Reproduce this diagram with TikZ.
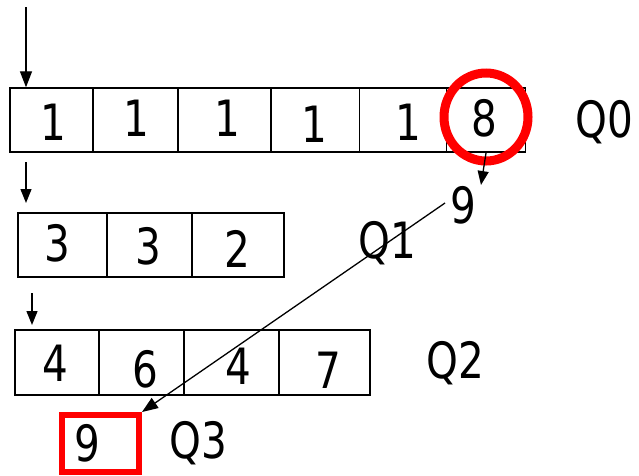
\documentclass[tikz,border=0pt]{standalone}
\usepackage{fontspec}
\setmainfont{DejaVu Sans Condensed}[FakeStretch=0.9]
\usetikzlibrary{arrows.meta}
\begin{document}
\begin{tikzpicture}[x=1pt,y=-1pt,
  cell/.style={draw,line width=1.4pt,inner sep=0pt,minimum height=64pt},
  num/.style={inner sep=0pt,font=\fontsize{50}{50}\selectfont},
  qlab/.style={inner sep=0pt,font=\fontsize{50}{50}\selectfont},
  arr/.style={line width=1.3pt,-{Triangle[length=16pt,width=12pt]}},
  arrs/.style={line width=1.3pt,-{Triangle[length=14pt,width=11pt]}}]
\useasboundingbox (0,0) rectangle (639,475);
% Q0 cells
\node[cell,minimum width=83pt] (c00) at (51.5,120) {};
\node[cell,minimum width=85pt] (c01) at (135.5,120) {};
\node[cell,minimum width=93pt] (c02) at (224.5,120) {};
\node[cell,minimum width=88pt] (c03) at (315.5,120) {};
\node[cell,minimum width=87pt] (c04) at (403,120) {};
\node[cell,minimum width=79pt] (c05) at (486,120) {};
\node[num] (n00) at (53,122) {1};
\node[num] (n01) at (136,118) {1};
\node[num] (n02) at (227,118) {1};
\node[num] (n03) at (314,124) {1};
\node[num] (n04) at (408,122) {1};
\node[num] (n05) at (484,118) {8};
\node[qlab] (q0) at (604,122) {Q0};
% Q1 cells
\node[cell,minimum width=89pt] (c10) at (62.5,245) {};
\node[cell,minimum width=85pt] (c11) at (149.5,245) {};
\node[cell,minimum width=92pt] (c12) at (238,245) {};
\node[num] (n10) at (57,243) {3};
\node[num] (n11) at (148,246) {3};
\node[num] (n12) at (237,249) {2};
\node[qlab] (q1) at (387,243) {Q1};
% Q2 cells
\node[cell,minimum width=84pt,minimum height=65pt] (c20) at (57,362.5) {};
\node[cell,minimum width=85pt,minimum height=65pt] (c21) at (141.5,362.5) {};
\node[cell,minimum width=95pt,minimum height=65pt] (c22) at (231.5,362.5) {};
\node[cell,minimum width=91pt,minimum height=65pt] (c23) at (324.5,362.5) {};
\node[num] (n20) at (55,363) {4};
\node[num] (n21) at (145,369) {6};
\node[num] (n22) at (238,366) {4};
\node[num] (n23) at (328,370) {7};
\node[qlab] (q2) at (455,363) {Q2};
% Q3
\node[draw=red,line width=6pt,inner sep=0pt,minimum width=77pt,minimum height=57pt] (c30) at (100.5,443.5) {};
\node[num] (n30) at (87,443) {9};
\node[qlab] (q3) at (198,443) {Q3};
% red circle on 8
\draw[red,line width=9pt] (c05.center) ++(0,-3) ellipse [x radius=42pt,y radius=44pt];
% moved 9
\node[num] (nine) at (463,205) {9};
% arrows
\coordinate (a0) at (26,7);
\draw[arr] (a0) -- (a0 |- c00.north);
\coordinate (a1s) at (26,162);
\coordinate (a1e) at (26,203);
\draw[arrs] (a1s) -- (a1e);
\coordinate (a2s) at (32,293);
\coordinate (a2e) at (32,325);
\draw[arrs] (a2s) -- (a2e);
\coordinate (m0) at (486,153);
\coordinate (m1) at (481,185);
\draw[arrs] (m0) -- (m1);
\coordinate (l0) at (445,203);
\draw[arr] (l0) -- (c30.north east);
\end{tikzpicture}
\end{document}
